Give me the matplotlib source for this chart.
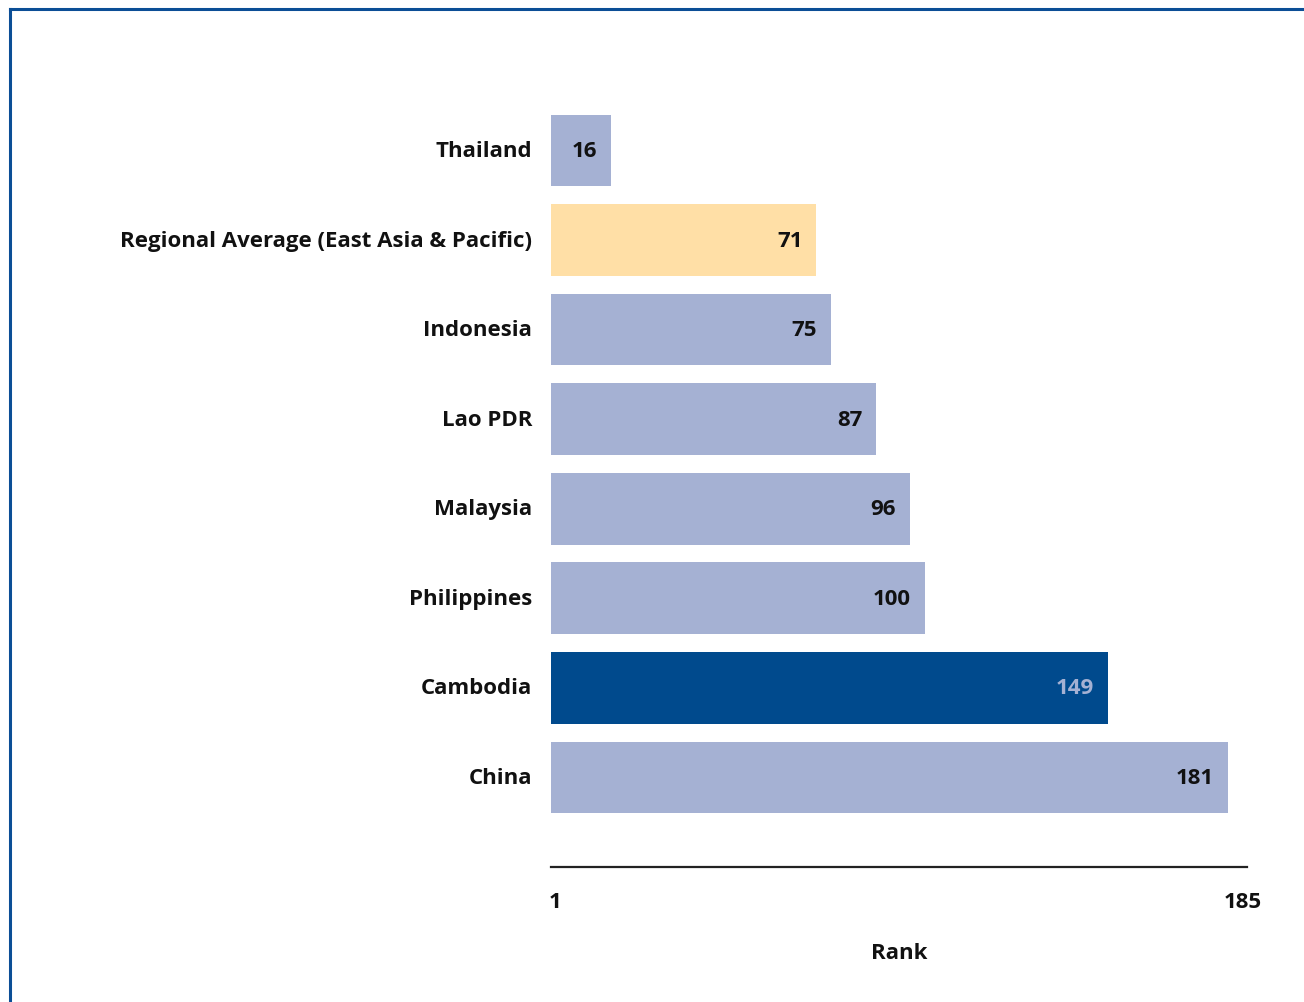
import matplotlib.pyplot as plt
from matplotlib.lines import Line2D

countries = ['Thailand', 'Regional Average (East Asia & Pacific)', 'Indonesia',
             'Lao PDR', 'Malaysia', 'Philippines', 'Cambodia', 'China']
ranks = [16, 71, 75, 87, 96, 100, 149, 181]
bar_colors = ['#A5B1D3', '#FFDFA6', '#A5B1D3', '#A5B1D3', '#A5B1D3',
              '#A5B1D3', '#004A8D', '#A5B1D3']
value_colors = ['#111111'] * 6 + ['#A5B1D3', '#111111']
tick_vals = [1, 185]
tick_labels = ['1', '185']

plt.rcParams['font.family'] = ['Open Sans', 'DejaVu Sans']

fig = plt.figure(figsize=(13.04, 10.03), dpi=100)
ax = fig.add_axes([551 / 1304, 1 - 868 / 1003, 696 / 1304, (868 - 104) / 1003])

y = list(range(len(countries)))
ax.barh(y, ranks, height=0.8, color=bar_colors, edgecolor='none')
ax.set_xlim(0, 186.2)
ax.set_ylim(8.0, -0.53)

fs = 16
for i, (v, c) in enumerate(zip(ranks, value_colors)):
    ax.annotate(str(v), (v, i), xytext=(-14, 0), textcoords='offset pixels',
                ha='right', va='center', fontsize=fs, fontweight='bold', color=c)
    ax.annotate(countries[i], (0, i), xytext=(-19, 0), textcoords='offset pixels',
                ha='right', va='center', fontsize=fs, fontweight='bold', color='#111111')

for s in ['top', 'right', 'left']:
    ax.spines[s].set_visible(False)
ax.spines['bottom'].set_linewidth(1.6)
ax.spines['bottom'].set_color('#222222')
ax.set_yticks([])
ax.set_xticks(tick_vals)
ax.set_xticklabels(tick_labels, fontsize=fs, fontweight='bold', color='#111111')
ax.tick_params(axis='x', length=0, pad=17)
ax.set_xlabel('Rank', fontsize=fs, fontweight='bold', color='#111111', labelpad=22)

# frame lines (left and top)
fig.add_artist(Line2D([10 / 1304, 10 / 1304], [0, 1 - 10 / 1003], color='#0B4E96', lw=2.2))
fig.add_artist(Line2D([10 / 1304, 1], [1 - 10 / 1003, 1 - 10 / 1003], color='#0B4E96', lw=2.2))

fig.savefig('out.png', dpi=100)
